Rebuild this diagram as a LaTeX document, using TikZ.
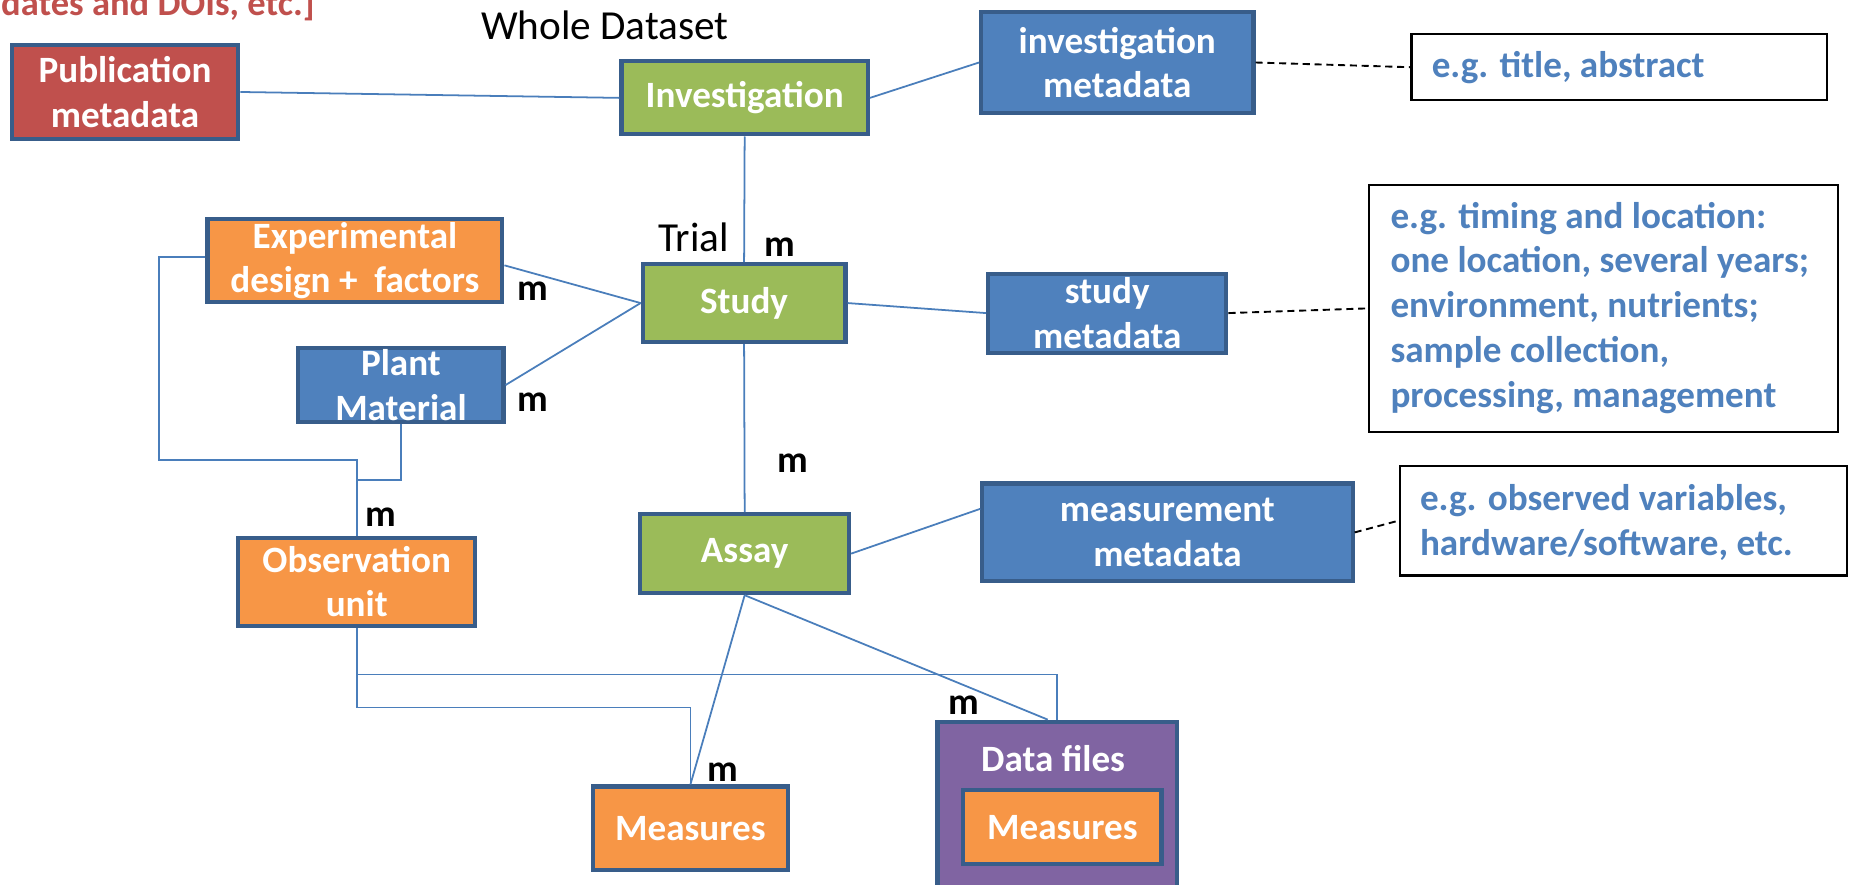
\documentclass[tikz,border=0pt]{standalone}
\usepackage{fontspec}
\setmainfont{Carlito}
\usetikzlibrary{calc}
\definecolor{cred}{HTML}{C0504D}
\definecolor{cgreen}{HTML}{9BBB59}
\definecolor{cblue}{HTML}{4F81BD}
\definecolor{corange}{HTML}{F79646}
\definecolor{cpurple}{HTML}{8064A2}
\definecolor{bord}{HTML}{385D8A}
\definecolor{conn}{HTML}{4A7EBB}
\begin{document}
\begin{tikzpicture}[x=1pt,y=-1pt,
  box/.style={draw=bord, line width=3.5pt, text=white, align=center, inner sep=0pt,
    font=\bfseries\fontsize{31.5}{37.5}\selectfont},
  notebox/.style={draw=black, line width=1.8pt, fill=white, inner sep=0pt},
  notetext/.style={text=cblue, align=left, anchor=west, inner sep=0pt,
    font=\bfseries\fontsize{31.5}{38}\selectfont},
  link/.style={draw=conn, line width=1.5pt},
  dashlink/.style={draw=black, line width=1.6pt, dash pattern=on 6pt off 4pt},
  mlabel/.style={font=\bfseries\fontsize{32}{36}\selectfont, inner sep=0pt},
  plain/.style={font=\fontsize{35}{40}\selectfont, inner sep=0pt, anchor=base}]
\useasboundingbox (0,0) rectangle (1568,750);

% cut-off header text
\node[anchor=base east, text=cred, font=\bfseries\fontsize{31}{36}\selectfont, inner sep=0pt] (hdr) at (267,13) {updates and DOIs, etc.]};

% main boxes
\node[box, fill=cred, minimum width=192pt, minimum height=80pt] (pub) at (106,78) {Publication\\metadata};
\node[plain] (whole) at (513,33.5) {Whole Dataset};
\node[box, fill=cgreen, minimum width=209pt, minimum height=62pt] (inv) at (631.5,83) {Investigation};
\node[box, fill=cblue, minimum width=231pt, minimum height=86pt] (invmeta) at (947.5,53) {investigation\\metadata};
\node[notebox, minimum width=352pt, minimum height=56pt] (egtitle) at (1373,57) {};
\node[notetext, anchor=base west] (egtitletxt) at (1214,66) {e.g. title, abstract};

\node[plain] (trial) at (588,213.5) {Trial};
\node[box, fill=cgreen, minimum width=172pt, minimum height=66pt] (study) at (631,257) {Study};
\node[box, fill=cblue, minimum width=202pt, minimum height=67pt] (studymeta) at (939,265.5) {study\\metadata};
\node[notebox, minimum width=398pt, minimum height=209pt] (egtiming) at (1360,261.5) {};
\node[notetext] (egtimingtxt) at (1179,261) {e.g. timing and location:\\one location, several years;\\environment, nutrients;\\sample collection,\\processing, management};

\node[box, fill=corange, minimum width=250pt, minimum height=70pt] (exp) at (301,221) {Experimental\\design +\ \ factors};
\node[box, fill=cblue, minimum width=174pt, minimum height=63pt] (plant) at (340,326.5) {Plant\\Material};
\node[box, fill=corange, minimum width=201pt, minimum height=75pt] (obs) at (302.5,493.5) {Observation\\unit};
\node[box, fill=cgreen, minimum width=177pt, minimum height=67pt] (assay) at (631.5,469.5) {Assay};
\node[box, fill=cblue, minimum width=314pt, minimum height=83pt] (measmeta) at (990,451.5) {measurement\\metadata};
\node[notebox, minimum width=379pt, minimum height=93pt] (egobs) at (1376.5,441.5) {};
\node[notetext] (egobstxt) at (1204,443) {e.g. observed variables,\\hardware/software, etc.};

\node[box, fill=cpurple, minimum width=203pt, minimum height=160pt] (data) at (896.5,692) {};
\node[text=white, font=\bfseries\fontsize{31.5}{36}\selectfont, inner sep=0pt] (datatxt) at (893,643) {Data files};
\node[box, fill=corange, minimum width=168pt, minimum height=63pt] (inmeas) at (901,701.5) {Measures};
\node[box, fill=corange, minimum width=165pt, minimum height=71pt] (meas) at (585.5,702.5) {Measures};

% connectors
\draw[link] (pub.east) -- (inv.west);
\draw[link] (inv.east) -- (invmeta.west);
\draw[dashlink] (invmeta.east) -- (egtitle.west);
\draw[link] (inv.south) -- (study.north);
\draw[link] (study.east) -- (studymeta.west);
\draw[dashlink] (studymeta.east) -- (egtiming.west);
\draw[link] ([yshift=-4pt]exp.east) -- (study.west);
\draw[link] (plant.east) -- (study.west);
\draw[link] (study.south) -- (assay.north);
\draw[link] (assay.east) -- ([yshift=20pt]measmeta.west);
\draw[dashlink] (measmeta.east) -- (egobs.west);

\coordinate (c1) at (135,390);
\coordinate (c2) at (302.5,407);
\coordinate (c3) at (302.5,572);
\coordinate (c4) at (302.5,600);
\draw[link] ([yshift=3pt]exp.west) -| (c1) -| (obs.north);
\draw[link] (plant.south) |- (c2);
\draw[link] (obs.south) -- (c3) -| (data.north);
\draw[link] (obs.south) -- (c4) -| (meas.north);
\draw[link] (assay.south) -- (meas.north);
\draw[link] (assay.south) -- ([xshift=-8pt]data.north);

% multiplicity labels
\node[mlabel] (m1) at (661,210) {m};
\node[mlabel] (m2) at (452,247) {m};
\node[mlabel] (m3) at (452,341) {m};
\node[mlabel] (m4) at (323,439) {m};
\node[mlabel] (m5) at (672,393) {m};
\node[mlabel] (m6) at (817,598) {m};
\node[mlabel] (m7) at (613,655) {m};
\end{tikzpicture}
\end{document}
